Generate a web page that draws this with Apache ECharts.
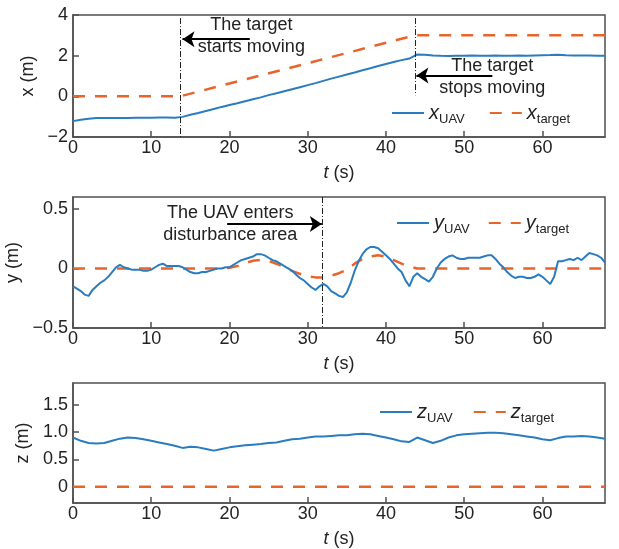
<!DOCTYPE html>
<html><head><meta charset="utf-8">
<script src="https://cdn.jsdelivr.net/npm/echarts@6/dist/echarts.min.js"></script>
<style>html,body{margin:0;padding:0;background:#fff}#c{width:619px;height:549px}</style>
</head><body><div id="c"></div>
<script>
// ---- data ----
const xTickVals = [0,10,20,30,40,50,60];
const xTicksTop = [-2,0,2,4];
const yTicksMid = [-0.5,0,0.5];
const zTicksBot = [0,0.5,1,1.5];

// UAV sample times (1 s grid) for x and z
const tUav = Array.from({length:69},(_,i)=>i);
const xUav = [-1.22,-1.15,-1.10,-1.06,-1.06,-1.07,-1.06,-1.06,-1.05,-1.05,
  -1.05,-1.04,-1.04,-1.05,-1.01,-0.91,-0.82,-0.72,-0.62,-0.52,
  -0.43,-0.34,-0.24,-0.14,-0.05,0.06,0.15,0.25,0.35,0.45,
  0.55,0.65,0.76,0.87,0.97,1.07,1.17,1.28,1.38,1.49,
  1.59,1.69,1.78,1.86,2.06,2.05,2.01,1.99,1.98,2.00,
  2.00,2.01,1.99,2.00,2.01,2.00,2.00,2.01,2.00,2.01,
  2.02,2.03,2.05,2.02,2.01,2.01,2.01,2.00,2.00];
const zUav = [0.90,0.84,0.80,0.79,0.80,0.84,0.88,0.90,0.89,0.87,
  0.84,0.81,0.78,0.75,0.71,0.73,0.72,0.69,0.66,0.69,
  0.72,0.74,0.76,0.77,0.78,0.80,0.81,0.84,0.87,0.88,
  0.90,0.92,0.92,0.93,0.94,0.94,0.96,0.97,0.96,0.93,
  0.90,0.87,0.83,0.82,0.90,0.85,0.80,0.84,0.90,0.94,
  0.96,0.97,0.98,0.99,0.99,0.98,0.96,0.94,0.92,0.90,
  0.87,0.85,0.89,0.92,0.92,0.93,0.92,0.90,0.88];
// y UAV on 0.5 s grid
const tY = Array.from({length:137},(_,i)=>i*0.5);
const yUav = [-0.15,-0.17,-0.19,-0.22,-0.23,-0.18,-0.15,-0.12,-0.10,-0.07,
  -0.03,0.01,0.03,0.01,0.00,-0.01,-0.01,-0.01,-0.02,-0.02,
  -0.01,0.01,0.03,0.04,0.02,0.02,0.02,0.02,0.01,-0.01,
  -0.03,-0.04,-0.04,-0.03,-0.03,-0.02,-0.01,0.00,0.00,0.01,
  0.01,0.03,0.05,0.07,0.08,0.09,0.10,0.12,0.12,0.11,
  0.09,0.07,0.06,0.04,0.02,0.00,-0.02,-0.05,-0.08,-0.10,
  -0.13,-0.16,-0.18,-0.15,-0.13,-0.15,-0.19,-0.21,-0.23,-0.24,
  -0.20,-0.12,-0.02,0.06,0.12,0.16,0.18,0.18,0.17,0.14,
  0.11,0.08,0.04,0.00,-0.03,-0.10,-0.15,-0.07,-0.04,-0.07,
  -0.09,-0.11,-0.07,0.00,0.05,0.08,0.10,0.11,0.09,0.08,
  0.08,0.09,0.09,0.09,0.09,0.10,0.11,0.11,0.08,0.04,
  0.01,-0.03,-0.06,-0.08,-0.07,-0.07,-0.08,-0.08,-0.07,-0.05,
  -0.07,-0.10,-0.13,-0.07,0.06,0.06,0.07,0.08,0.07,0.09,
  0.07,0.10,0.13,0.12,0.11,0.09,0.05];
// targets
const xTargetT = [0,13.7,43.7,68];
const xTargetV = [0,0,3,3];
const yTargetT = [0,19,20,21,22,23,24,25,26,27,28,29,30,31,32,33,34,35,36,37,38,39,40,41,42,43,44,68];
const yTargetV = [0,0,0.005,0.02,0.045,0.065,0.072,0.062,0.04,0.01,-0.02,-0.045,-0.065,-0.075,-0.075,-0.06,-0.04,-0.01,0.04,0.08,0.10,0.11,0.10,0.07,0.04,0.015,0,0];
const zTargetT = [0,68];
const zTargetV = [0,0];

// ---- chart ----
const FONT = '"Liberation Sans", Arial, sans-serif';
const BLUE = '#2a7cc0', ORANGE = '#e8642c', FRAME = '#505050', TXT = '#222';
const pairs = (t,v)=>t.map((x,i)=>[x,v[i]]);
const fmt = v => v < 0 ? '\u2212' + Math.abs(v) : String(v);
const fmtZ = v => v === 0 ? '0' : v.toFixed(1);

const grids = [
  {left:73,right:14,top:15,height:122},
  {left:73,right:14,top:197,height:131},
  {left:73,right:14,top:383,height:120}
].map(g=>Object.assign(g,{show:true,borderColor:FRAME,borderWidth:1.5,containLabel:false,outerBoundsMode:'none'}));

function xAxis(i){
  return {type:'value',gridIndex:i,min:0,max:68,
    name:'{i|t} (s)',nameLocation:'middle',nameGap:27,
    nameTextStyle:{fontSize:18,color:TXT,fontFamily:FONT,rich:{i:{fontStyle:'italic',fontSize:18,color:TXT,fontFamily:FONT}}},
    axisLine:{show:true,onZero:false,lineStyle:{color:FRAME,width:1.5}},
    axisTick:{show:true,inside:true,length:6,customValues:xTickVals,lineStyle:{color:FRAME,width:1.5}},
    axisLabel:{show:true,margin:2,fontSize:18,color:TXT,fontFamily:FONT,customValues:xTickVals},
    splitLine:{show:false}};
}
function yAxis(i,name,min,max,ticks,f){
  return {type:'value',gridIndex:i,min:min,max:max,
    name:name,nameLocation:'middle',nameGap:35,
    nameTextStyle:{fontSize:18,color:TXT,fontFamily:FONT},
    axisLine:{show:true,onZero:false,lineStyle:{color:FRAME,width:1.5}},
    axisTick:{show:true,inside:true,length:6,customValues:ticks,lineStyle:{color:FRAME,width:1.5}},
    axisLabel:{show:true,margin:5,fontSize:18,color:TXT,fontFamily:FONT,customValues:ticks,formatter:f},
    splitLine:{show:false}};
}

const legendRich = {
  i:{fontStyle:'italic',fontSize:20,color:TXT,fontFamily:FONT},
  s:{fontSize:13,color:TXT,fontFamily:FONT,padding:[12,0,0,0]}
};
function legend(names,left,top,gap){
  return {data:names,left:left,top:top,itemWidth:32,itemHeight:12,itemGap:gap,
    selectedMode:false,
    itemStyle:{color:'rgba(0,0,0,0)',borderColor:'rgba(0,0,0,0)',borderWidth:0,opacity:0},
    formatter:n=>{const p=n.split('_');return '{i|'+p[0]+'}{s|'+p[1]+'}';},
    textStyle:{rich:legendRich,color:TXT}};
}

const annoLabel = {show:true,position:'inside',formatter:'{b}',fontSize:18,lineHeight:22,color:TXT,fontFamily:FONT,align:'center'};
const vline = {color:'#222',width:1,type:[6,2,1,2]};
const arrowStyle = {color:'#000',width:2,type:'solid'};

function uav(name,i,data,extra){
  return Object.assign({name:name,type:'line',xAxisIndex:i,yAxisIndex:i,data:data,
    symbol:'none',showSymbol:false,smooth:false,animation:false,
    lineStyle:{color:BLUE,width:2},itemStyle:{color:BLUE},z:3},extra||{});
}
function tgt(name,i,data,extra){
  return Object.assign({name:name,type:'line',xAxisIndex:i,yAxisIndex:i,data:data,
    symbol:'none',showSymbol:false,smooth:false,animation:false,
    lineStyle:{color:ORANGE,width:2.5,type:[12,10]},itemStyle:{color:ORANGE},z:2},extra||{});
}
function arrows(list){
  return {silent:true,animation:false,label:{show:false},symbol:['none','arrow'],symbolSize:12,
    lineStyle:arrowStyle,data:list.map(a=>[{coord:a[0]},{coord:a[1]}])};
}
function vlines(list){
  return {silent:true,animation:false,label:{show:false},symbol:['none','none'],
    lineStyle:vline,data:list.map(a=>[{coord:a[0]},{coord:a[1]}])};
}
function texts(list){
  return {silent:true,animation:false,symbol:'circle',symbolSize:1,itemStyle:{color:'rgba(0,0,0,0)'},
    label:annoLabel,data:list.map(a=>({name:a[1],coord:a[0]}))};
}

const option = {
  backgroundColor:'#fff',
  animation:false,
  textStyle:{fontFamily:FONT},
  grid:grids,
  xAxis:[xAxis(0),xAxis(1),xAxis(2)],
  yAxis:[
    yAxis(0,'x (m)',-2,4,xTicksTop,fmt),
    yAxis(1,'y (m)',-0.5,0.6,yTicksMid,fmt),
    yAxis(2,'z (m)',-0.3,1.9,zTicksBot,fmtZ)
  ],
  legend:[
    legend(['x_UAV','x_target'],386,98,24),
    legend(['y_UAV','y_target'],391,208,18),
    legend(['z_UAV','z_target'],374,397,20)
  ],
  series:[
    uav('x_UAV',0,pairs(tUav,xUav),{
      markLine:arrows([[[22.6,2.81],[14.0,2.81]],[[53.6,1.02],[43.9,1.02]]]),
      markPoint:texts([[[22.8,2.96],'The target\nstarts moving'],[[53.6,0.95],'The target\nstops moving']])
    }),
    tgt('x_target',0,pairs(xTargetT,xTargetV),{
      markLine:vlines([[[13.7,3.85],[13.7,-2]],[[43.7,3.85],[43.7,0.05]]])
    }),
    uav('y_UAV',1,pairs(tY,yUav),{
      markLine:arrows([[[19.7,0.374],[31.8,0.374]]]),
      markPoint:texts([[[20.1,0.374],'The UAV enters\ndisturbance area']])
    }),
    tgt('y_target',1,pairs(yTargetT,yTargetV),{
      markLine:vlines([[[31.8,0.6],[31.8,-0.5]]])
    }),
    uav('z_UAV',2,pairs(tUav,zUav)),
    tgt('z_target',2,pairs(zTargetT,zTargetV))
  ]
};
const chart = echarts.init(document.getElementById('c'),null,{renderer:'canvas'});
chart.setOption(option);
</script></body></html>
